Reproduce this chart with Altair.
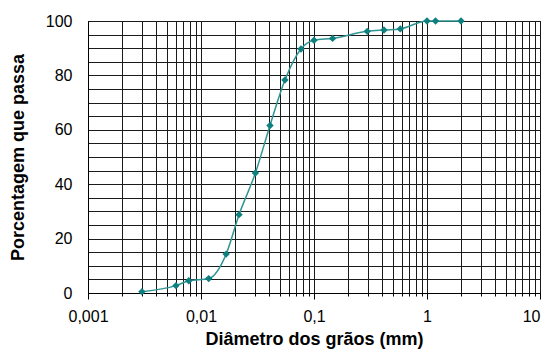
import altair as alt
import pandas as pd

# Data
diametro = [0.003, 0.006, 0.0078, 0.0117, 0.0167, 0.0217, 0.0303, 0.0408,
            0.0553, 0.0767, 0.1, 0.146, 0.296, 0.416, 0.58, 1.0, 1.19, 2.0]
passa = [0.5, 2.7, 4.5, 5.3, 14.3, 28.8, 44.1, 61.6,
         78.3, 89.7, 92.9, 93.6, 96.2, 96.7, 97.1, 100, 100, 100]

decades = [0.001, 0.01, 0.1, 1]
multipliers = [1, 2, 3, 4, 5, 6, 7, 8, 9]
x_grid_values = [round(d * m, 6) for d in decades for m in multipliers] + [10]
y_grid_values = list(range(0, 101, 5))

df = pd.DataFrame({"d": diametro, "p": passa})

is_decade = "abs(log(datum.value)/LN10 - round(log(datum.value)/LN10)) < 0.001"

x_axis = alt.Axis(
    title="Diâmetro dos grãos (mm)",
    values=x_grid_values,
    format="~g",
    labelExpr=f"{is_decade} ? replace(format(datum.value, '~g'), '.', ',') : ''",
    grid=True,
    gridColor="#1a1a1a",
    gridWidth=1,
    gridOpacity=1,
    domainColor="#000",
    tickColor="#000",
    tickSize={"condition": {"test": is_decade, "value": 6}, "value": 3},
    labelAlign={"condition": {"test": "datum.value >= 9.99", "value": "right"}, "value": "center"},
    labelPadding=9,
    labelFontSize=16,
    labelColor="#000",
    labelFont="Liberation Sans",
    titleFont="Liberation Sans",
    titleFontSize=18,
    titleFontWeight="bold",
    titleColor="#000",
    titlePadding=6,
    labelFlush=False,
    labelOverlap=False,
)

y_axis = alt.Axis(
    title="Porcentagem que passa",
    values=y_grid_values,
    labelExpr="datum.value % 20 == 0 ? datum.label : ''",
    grid=True,
    gridColor="#1a1a1a",
    gridWidth=1,
    gridOpacity=1,
    domainColor="#000",
    tickSize=0,
    tickOpacity=0,
    labelPadding=16,
    labelFontSize=16,
    labelColor="#000",
    labelFont="Liberation Sans",
    titleFont="Liberation Sans",
    titleFontSize=18,
    titleFontWeight="bold",
    titleColor="#000",
    titlePadding=18,
    labelOverlap=False,
)

x_scale = alt.Scale(type="log", domain=[0.001, 10], nice=False)
y_scale = alt.Scale(domain=[0, 100], nice=False)

line = alt.Chart(df).mark_line(color="#2f9494", strokeWidth=1.5, interpolate="monotone").encode(
    x=alt.X("d:Q", scale=x_scale, axis=x_axis),
    y=alt.Y("p:Q", scale=y_scale, axis=y_axis),
)
points = alt.Chart(df).mark_point(shape="diamond", filled=True, size=55, color="#0e7f7f", opacity=1).encode(
    x=alt.X("d:Q", scale=x_scale, axis=x_axis),
    y=alt.Y("p:Q", scale=y_scale, axis=y_axis),
)

chart = (
    alt.layer(line, points)
    .properties(
        width=452,
        height=272,
        autosize=alt.AutoSizeParams(type="none"),
        padding={"left": 80, "top": 13, "right": 2, "bottom": 59},
        background="white",
    )
    .configure_view(stroke="#000", strokeWidth=1)
)

chart.save("out.html", embed_options={"renderer": "svg", "actions": False})
